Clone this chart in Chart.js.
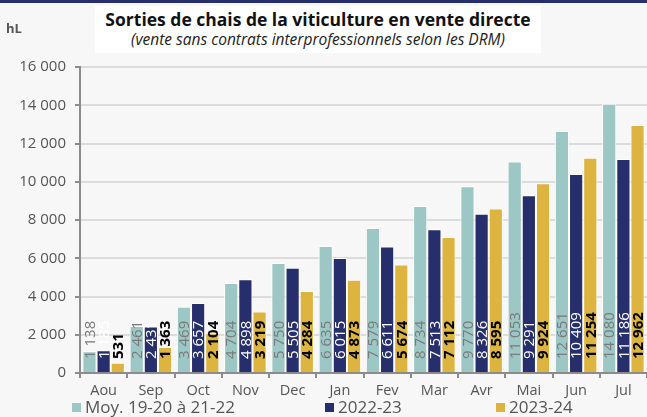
<!DOCTYPE html>
<html>
<head>
<meta charset="utf-8">
<script src="https://cdn.jsdelivr.net/npm/chart.js@4"></script>
<style>
  html, body { margin: 0; padding: 0; background: #f7f7f7; overflow: hidden; }
  #wrap { position: relative; width: 647px; height: 417px; font-family: "Open Sans", sans-serif; }
  #topline { position: absolute; left: 0; top: 0; width: 647px; height: 3px; background: #262f6b; }
  #titlebox { position: absolute; left: 95px; top: 6px; width: 446px; height: 47px; background: #fff; text-align: center; }
  #titlebox .t { font-weight: 700; font-size: 17.5px; color: #111; margin-top: 3px; line-height: 21px; }
  #titlebox .s { font-style: italic; font-size: 15.5px; color: #222; line-height: 19px; }
  #unit { position: absolute; left: 6px; top: 19px; font-weight: 700; font-size: 13px; color: #555; }
  #legend { position: absolute; left: 0; top: 396px; width: 647px; height: 21px; font-size: 17px; color: #555; }
  #legend span { position: absolute; top: 0; line-height: 21px; white-space: nowrap; }
  #legend i { display: inline-block; width: 9px; height: 9px; margin-right: 4px; vertical-align: 1px; }
</style>
</head>
<body>
<div id="wrap">
  <canvas id="c" width="647" height="417"></canvas>
  <div id="topline"></div>
  <div id="unit">hL</div>
  <div id="titlebox">
    <div class="t">Sorties de chais de la viticulture en vente directe</div>
    <div class="s">(vente sans contrats interprofessionnels selon les DRM)</div>
  </div>
  <div id="legend"></div>
</div>
<script>
// mois de la campagne
const months = ['Aou','Sep','Oct','Nov','Dec','Jan','Fev','Mar','Avr','Mai','Jun','Jul'];
const seriesNames = ['Moy. 19-20 à 21-22','2022-23','2023-24'];
// volumes cumulés (hL)
const moyenne = [1138, 2461, 3469, 4704, 5750, 6635, 7579, 8734, 9770, 11053, 12651, 14080];
const camp2223 = [1185, 2431, 3657, 4898, 5505, 6015, 6611, 7513, 8326, 9291, 10409, 11186];
const camp2324 = [531, 1363, 2104, 3219, 4284, 4873, 5674, 7112, 8595, 9924, 11254, 12962];
const yTicks = [0, 2000, 4000, 6000, 8000, 10000, 12000, 14000, 16000];

const colors = ['#9dc7c5', '#262f6b', '#deb440'];
const labelStyle = [
  { color: '#7a7a7a', font: '400 15px "Open Sans"' },
  { color: '#ffffff', font: '400 15px "Open Sans"' },
  { color: '#000000', font: '700 15px "Open Sans"' }
];

const fmt = v => String(v).replace(/\B(?=(\d{3})+(?!\d))/g, ' ');

// legend (html)
const legendPos = [72, 325, 496];
const leg = document.getElementById('legend');
seriesNames.forEach((n, i) => {
  const s = document.createElement('span');
  s.style.left = legendPos[i] + 'px';
  s.innerHTML = '<i style="background:' + colors[i] + '"></i>' + n;
  leg.appendChild(s);
});

// labels verticaux dans les barres
const barLabels = {
  id: 'barLabels',
  afterDatasetsDraw(chart) {
    const ctx = chart.ctx;
    const base = chart.scales.y.getPixelForValue(0);
    chart.data.datasets.forEach((ds, i) => {
      const meta = chart.getDatasetMeta(i);
      meta.data.forEach((bar, j) => {
        ctx.save();
        ctx.translate(bar.x, base - 14);
        ctx.rotate(-Math.PI / 2);
        ctx.font = labelStyle[i].font;
        ctx.fillStyle = labelStyle[i].color;
        ctx.textAlign = 'left';
        ctx.textBaseline = 'middle';
        ctx.fillText(fmt(ds.data[j]), 0, 1);
        ctx.restore();
      });
    });
  }
};

const data = [moyenne, camp2223, camp2324];
new Chart(document.getElementById('c'), {
  type: 'bar',
  data: {
    labels: months,
    datasets: seriesNames.map((n, i) => ({
      label: n,
      data: data[i],
      backgroundColor: colors[i],
      borderColor: '#ffffff',
      borderWidth: 1,
      categoryPercentage: 0.9,
      barPercentage: 1.0
    }))
  },
  options: {
    responsive: false,
    animation: false,
    events: [],
    layout: { padding: { left: 0, right: 0, top: 67, bottom: 0 } },
    plugins: { legend: { display: false }, tooltip: { enabled: false } },
    scales: {
      x: {
        afterFit: s => { s.height = 44; },
        grid: { drawOnChartArea: false, drawTicks: true, tickLength: 5, tickColor: '#8c8c8c', lineWidth: 2, offset: true },
        border: { color: '#8c8c8c', width: 2 },
        ticks: { color: '#555', font: { family: 'Open Sans', size: 14.5 }, padding: 4, maxRotation: 0 }
      },
      y: {
        min: 0,
        max: 16000,
        afterFit: s => { s.width = 80; },
        afterBuildTicks: s => { s.ticks = yTicks.map(v => ({ value: v })); },
        grid: { color: '#dcdcdc', lineWidth: 2, tickLength: 5, tickColor: '#8c8c8c' },
        border: { color: '#8c8c8c', width: 2 },
        ticks: { color: '#555', font: { family: 'Open Sans', size: 15 }, padding: 9, callback: v => fmt(v) }
      }
    }
  },
  plugins: [barLabels]
});
</script>
</body>
</html>
